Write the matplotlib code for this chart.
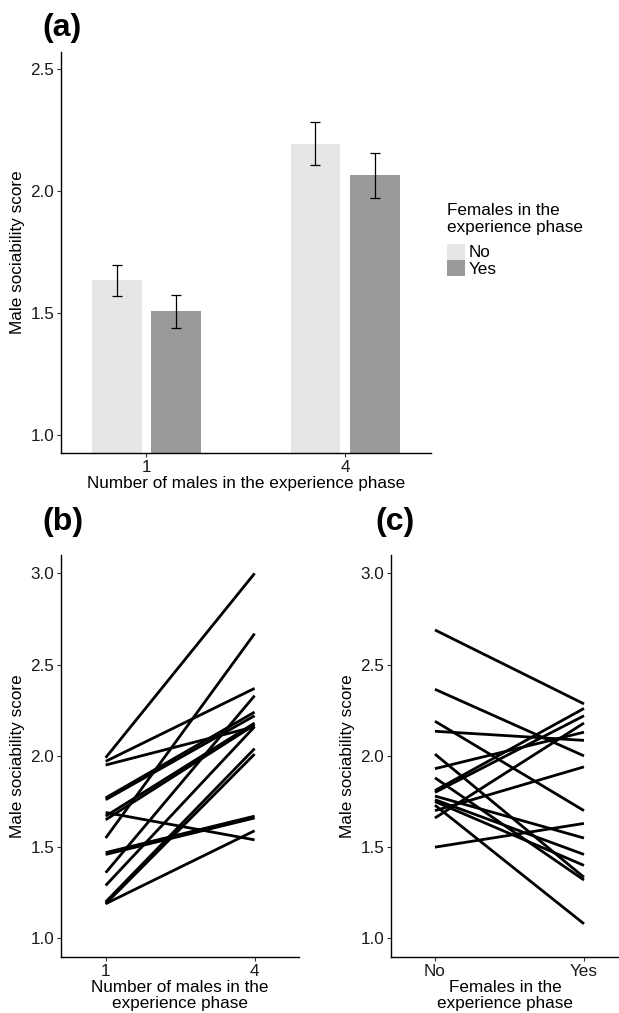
import matplotlib
matplotlib.use("Agg")
import matplotlib.pyplot as plt
import numpy as np
from matplotlib.patches import Patch

plt.rcParams['font.family'] = ['Liberation Sans', 'DejaVu Sans']

# (a) mean scores
males_groups = ['1', '4']
female_levels = ['No', 'Yes']
mean_no = [1.635, 2.193]
mean_yes = [1.508, 2.066]
err_no_lo = [1.569, 2.106]
err_no_hi = [1.697, 2.281]
err_yes_lo = [1.437, 1.972]
err_yes_hi = [1.575, 2.156]

# (b) per-male scores, 1 vs 4 males
b_one = [1.99, 1.97, 1.95, 1.77, 1.76, 1.69, 1.67, 1.65, 1.55, 1.47, 1.46, 1.36, 1.29, 1.20, 1.19, 1.19]
b_four = [3.00, 2.37, 2.16, 2.24, 2.22, 1.54, 2.18, 2.17, 2.67, 1.67, 1.66, 2.33, 2.16, 2.04, 2.01, 1.59]

# (c) per-male scores, no females vs females
c_no = [2.69, 2.365, 2.19, 2.135, 2.01, 1.93, 1.88, 1.81, 1.80, 1.78, 1.76, 1.75, 1.73, 1.70, 1.66, 1.50]
c_yes = [2.285, 2.00, 1.70, 2.085, 1.335, 2.13, 1.32, 2.26, 2.22, 1.55, 1.46, 1.40, 1.08, 1.94, 2.18, 1.63]

col_no = '#e6e6e6'
col_yes = '#999a99'
fs = 12.3


def style(ax):
    for s in ['top', 'right']:
        ax.spines[s].set_visible(False)
    for s in ['left', 'bottom']:
        ax.spines[s].set_linewidth(1.0)
        ax.spines[s].set_color('black')
    ax.tick_params(direction='out', length=3, width=0.8, color='#333333',
                   labelsize=fs, labelcolor='#1a1a1a', pad=2)


fig = plt.figure(figsize=(6.19, 10.13), dpi=100)

# panel (a)
ax = fig.add_axes([0.0985, 0.553, 0.5975, 0.396])
x = np.arange(len(males_groups))
ax.bar(x - 0.15, mean_no, width=0.25, color=col_no, bottom=0)
ax.bar(x + 0.15, mean_yes, width=0.25, color=col_yes, bottom=0)
ax.errorbar(x - 0.15, mean_no,
            yerr=[np.array(mean_no) - np.array(err_no_lo), np.array(err_no_hi) - np.array(mean_no)],
            fmt='none', ecolor='black', elinewidth=0.9, capsize=3.6, capthick=0.9)
ax.errorbar(x + 0.15, mean_yes,
            yerr=[np.array(mean_yes) - np.array(err_yes_lo), np.array(err_yes_hi) - np.array(mean_yes)],
            fmt='none', ecolor='black', elinewidth=0.9, capsize=3.6, capthick=0.9)
ax.set_xlim(-0.43, 1.43)
ax.set_ylim(0.926, 2.571)
ax.set_xticks(x)
ax.set_xticklabels(males_groups)
ax.set_yticks([1.0, 1.5, 2.0, 2.5])
ax.set_yticklabels(['1.0', '1.5', '2.0', '2.5'])
ax.set_xlabel('Number of males in the experience phase', fontsize=fs, labelpad=1)
ax.set_ylabel('Male sociability score', fontsize=fs, labelpad=4)
style(ax)

handles = [Patch(facecolor=col_no, edgecolor='none'), Patch(facecolor=col_yes, edgecolor='none')]
leg = fig.legend(handles, female_levels, title='Females in the\nexperience phase',
                 loc='upper left', bbox_to_anchor=(447 / 619, 1 - 203 / 1013),
                 frameon=False, fontsize=fs, title_fontsize=fs, handlelength=1.05,
                 handleheight=1.05, handletextpad=0.2, labelspacing=0.0, borderpad=0,
                 borderaxespad=0)
leg._legend_box.align = 'left'
leg._legend_box.sep = 6

fig.text(42 / 619, 1 - 28 / 1013, '(a)', fontsize=23, fontweight='bold', va='center', ha='left')

# panel (b)
axb = fig.add_axes([0.0985, 0.0556, 0.385, 0.3964])
for y0, y1 in zip(b_one, b_four):
    axb.plot([0, 1], [y0, y1], color='black', lw=2.0, solid_capstyle='butt')
axb.set_xlim(-0.3, 1.3)
axb.set_ylim(0.90, 3.10)
axb.set_xticks([0, 1])
axb.set_xticklabels(males_groups)
axb.set_yticks([1.0, 1.5, 2.0, 2.5, 3.0])
axb.set_yticklabels(['1.0', '1.5', '2.0', '2.5', '3.0'])
axb.set_xlabel('Number of males in the\nexperience phase', fontsize=fs, labelpad=1, linespacing=1.05)
axb.set_ylabel('Male sociability score', fontsize=fs, labelpad=4)
style(axb)
fig.text(42 / 619, 1 - 522 / 1013, '(b)', fontsize=23, fontweight='bold', va='center', ha='left')

# panel (c)
axc = fig.add_axes([391 / 619, 0.0556, 1 - 391 / 619, 0.3964])
for y0, y1 in zip(c_no, c_yes):
    axc.plot([0, 1], [y0, y1], color='black', lw=2.0, solid_capstyle='butt')
axc.set_xlim(-0.295, 1.235)
axc.set_ylim(0.90, 3.10)
axc.set_xticks([0, 1])
axc.set_xticklabels(female_levels)
axc.set_yticks([1.0, 1.5, 2.0, 2.5, 3.0])
axc.set_yticklabels(['1.0', '1.5', '2.0', '2.5', '3.0'])
axc.set_xlabel('Females in the\nexperience phase', fontsize=fs, labelpad=1, linespacing=1.05)
axc.set_ylabel('Male sociability score', fontsize=fs, labelpad=4)
style(axc)
fig.text(375 / 619, 1 - 522 / 1013, '(c)', fontsize=23, fontweight='bold', va='center', ha='left')

fig.savefig('out.png', dpi=100)
